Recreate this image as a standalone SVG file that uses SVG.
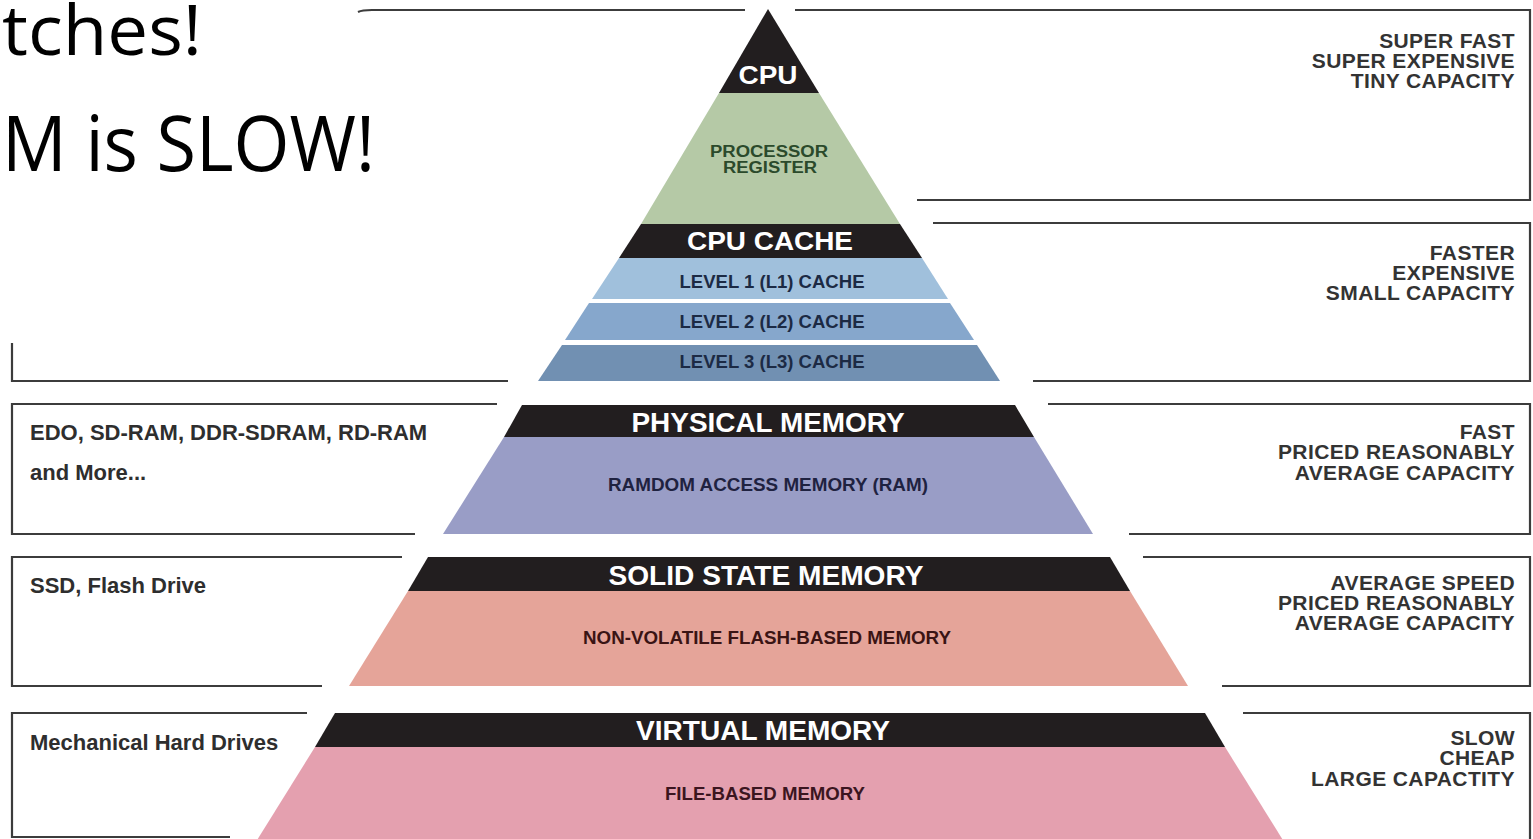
<svg xmlns="http://www.w3.org/2000/svg" width="1533" height="839" viewBox="0 0 1533 839">
<style>
.frame{fill:none;stroke:#3c3c3c;stroke-width:2.2}
.band{fill:#221e1f}
.ttl{font-family:"Liberation Sans",Arial,sans-serif;font-weight:bold;fill:#ffffff;text-anchor:middle}
.sub{font-family:"Liberation Sans",Arial,sans-serif;font-weight:bold;text-anchor:middle}
.rl{font-family:"Liberation Sans",Arial,sans-serif;font-weight:bold;font-size:21px;letter-spacing:0.4px;fill:#333333;text-anchor:end}
.ll{font-family:"Liberation Sans",Arial,sans-serif;font-weight:bold;font-size:22px;fill:#2e2e2e}
.slide{font-family:"Open Sans","Noto Sans",sans-serif;fill:#000000}
</style>
<rect x="0" y="0" width="1533" height="839" fill="#ffffff"/>

<g id="frames">
  <path class="frame" d="M358,12 Q362,10 372,10 L745,10"/>
  <path class="frame" d="M12,343 L12,381 L508,381"/>
  <path class="frame" d="M795,10 L1530,10 L1530,200 L917,200"/>
  <path class="frame" d="M933,223 L1530,223 L1530,381 L1033,381"/>
  <path class="frame" d="M497,404 L12,404 L12,534 L415,534"/>
  <path class="frame" d="M1048,404 L1530,404 L1530,534 L1129,534"/>
  <path class="frame" d="M402,557 L12,557 L12,686 L322,686"/>
  <path class="frame" d="M1143,557 L1530,557 L1530,686 L1222,686"/>
  <path class="frame" d="M307,713 L12,713 L12,837 L230,837"/>
  <path class="frame" d="M1243,713 L1530,713 L1530,845"/>
</g>

<g id="slide-text">
  <text class="slide" x="2" y="55" font-size="70" textLength="200" lengthAdjust="spacingAndGlyphs">tches!</text>
  <text class="slide" x="2" y="171" font-size="76" textLength="373" lengthAdjust="spacingAndGlyphs">M is SLOW!</text>
</g>

<g id="cpu">
  <polygon class="band" points="768,9 719,93 819,93"/>
  <polygon points="719,93 819,93 900,224 641,224" fill="#b5c9a6"/>
  <text class="ttl" x="768" y="84" font-size="25" textLength="59" lengthAdjust="spacingAndGlyphs">CPU</text>
  <text class="sub" x="769" y="157" font-size="16" fill="#2b4a2b" textLength="118" lengthAdjust="spacingAndGlyphs">PROCESSOR</text>
  <text class="sub" x="770" y="173" font-size="16" fill="#2b4a2b" textLength="94" lengthAdjust="spacingAndGlyphs">REGISTER</text>
</g>

<g id="cpu-cache">
  <polygon class="band" points="641,224 900,224 922,258 619,258"/>
  <text class="ttl" x="770" y="250" font-size="25" textLength="166" lengthAdjust="spacingAndGlyphs">CPU CACHE</text>
</g>

<g id="l1-cache">
  <polygon points="619,258 922,258 948,299 592,299" fill="#a0c0dc"/>
  <text class="sub" x="772" y="288" font-size="17.5" fill="#1c2a44" textLength="185" lengthAdjust="spacingAndGlyphs">LEVEL 1 (L1) CACHE</text>
</g>

<g id="l2-cache">
  <polygon points="589,303 950,303 974,340 565,340" fill="#86a7cc"/>
  <text class="sub" x="772" y="328" font-size="17.5" fill="#1c2a44" textLength="185" lengthAdjust="spacingAndGlyphs">LEVEL 2 (L2) CACHE</text>
</g>

<g id="l3-cache">
  <polygon points="562,345 977,345 1000,381 538,381" fill="#7190b2"/>
  <text class="sub" x="772" y="368" font-size="17.5" fill="#1c2a44" textLength="185" lengthAdjust="spacingAndGlyphs">LEVEL 3 (L3) CACHE</text>
</g>

<g id="physical-memory">
  <polygon class="band" points="522,405 1015,405 1034,437 504,437"/>
  <polygon points="504,437 1034,437 1093,534 443,534" fill="#999dc6"/>
  <text class="ttl" x="768" y="432" font-size="27" textLength="273" lengthAdjust="spacingAndGlyphs">PHYSICAL MEMORY</text>
  <text class="sub" x="768" y="491" font-size="18" fill="#1f2240" textLength="320" lengthAdjust="spacingAndGlyphs">RAMDOM ACCESS MEMORY (RAM)</text>
</g>

<g id="solid-state-memory">
  <polygon class="band" points="428,557 1110,557 1130,591 408,591"/>
  <polygon points="408,591 1130,591 1188,686 349,686" fill="#e5a499"/>
  <text class="ttl" x="766" y="585" font-size="27" textLength="315" lengthAdjust="spacingAndGlyphs">SOLID STATE MEMORY</text>
  <text class="sub" x="767" y="644" font-size="18" fill="#3a1414" textLength="368" lengthAdjust="spacingAndGlyphs">NON-VOLATILE FLASH-BASED MEMORY</text>
</g>

<g id="virtual-memory">
  <polygon class="band" points="335,713 1205,713 1225,747 315,747"/>
  <polygon points="315,747 1225,747 1286,845 254,845" fill="#e4a0af"/>
  <text class="ttl" x="763" y="740" font-size="27" textLength="254" lengthAdjust="spacingAndGlyphs">VIRTUAL MEMORY</text>
  <text class="sub" x="765" y="800" font-size="18" fill="#3b1520" textLength="200" lengthAdjust="spacingAndGlyphs">FILE-BASED MEMORY</text>
</g>

<g id="right-labels">
  <text class="rl" x="1515" y="48">SUPER FAST</text>
  <text class="rl" x="1515" y="68">SUPER EXPENSIVE</text>
  <text class="rl" x="1515" y="88">TINY CAPACITY</text>
  <text class="rl" x="1515" y="260">FASTER</text>
  <text class="rl" x="1515" y="280">EXPENSIVE</text>
  <text class="rl" x="1515" y="300">SMALL CAPACITY</text>
  <text class="rl" x="1515" y="439">FAST</text>
  <text class="rl" x="1515" y="459">PRICED REASONABLY</text>
  <text class="rl" x="1515" y="480">AVERAGE CAPACITY</text>
  <text class="rl" x="1515" y="590">AVERAGE SPEED</text>
  <text class="rl" x="1515" y="610">PRICED REASONABLY</text>
  <text class="rl" x="1515" y="630">AVERAGE CAPACITY</text>
  <text class="rl" x="1515" y="745">SLOW</text>
  <text class="rl" x="1515" y="765">CHEAP</text>
  <text class="rl" x="1515" y="786">LARGE CAPACTITY</text>
</g>

<g id="left-labels">
  <text class="ll" x="30" y="440">EDO, SD-RAM, DDR-SDRAM, RD-RAM</text>
  <text class="ll" x="30" y="480">and More...</text>
  <text class="ll" x="30" y="593">SSD, Flash Drive</text>
  <text class="ll" x="30" y="750">Mechanical Hard Drives</text>
</g>
</svg>
